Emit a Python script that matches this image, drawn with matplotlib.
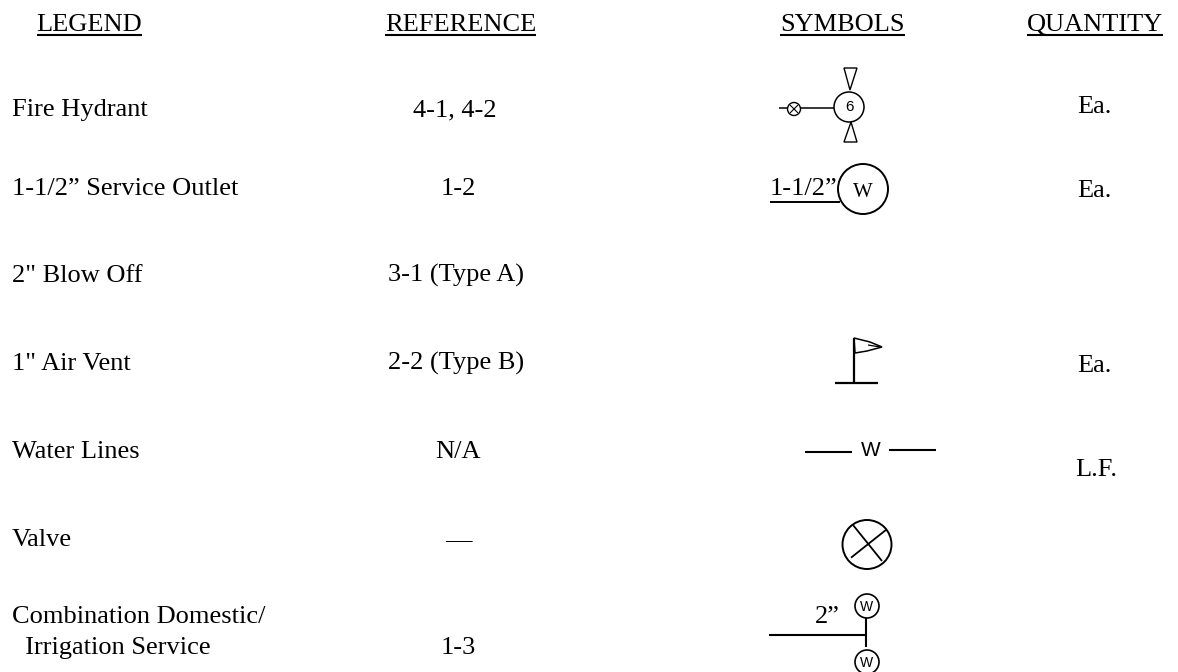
import matplotlib
matplotlib.use("Agg")
import matplotlib.pyplot as plt
from matplotlib.patches import Circle, Polygon

headers = ["LEGEND", "REFERENCE", "SYMBOLS", "QUANTITY"]
legend_items = ["Fire Hydrant", "1-1/2\u201d Service Outlet", "2\" Blow Off", "1\" Air Vent",
                "Water Lines", "Valve", "Combination Domestic/", "  Irrigation Service"]
references = ["4-1, 4-2", "1-2", "3-1 (Type A)", "2-2 (Type B)", "N/A", "\u2014", "", "1-3"]
quantities = ["Ea.", "Ea.", "", "Ea.", "L.F.", "", "", ""]

header_x = [89.5, 460.5, 842.5, 1095]
legend_base = [116, 195, 282, 370, 458, 546, 623, 654]
ref_x = [455, 458, 456, 456, 458, 458, 458, 458]
qty_x = [1094, 1094, 1094, 1094, 1096, 1094, 1094, 1094]
qty_base = [113, 197, 282, 372, 476, 546, 623, 654]

plt.rcParams["font.family"] = ["Liberation Serif", "DejaVu Sans"]
FS = 19
SANS = "Liberation Sans"
fig = plt.figure(figsize=(11.78, 6.72), dpi=100, facecolor="white")
ax = fig.add_axes([0, 0, 1, 1])
ax.set_xlim(0, 1178)
ax.set_ylim(672, 0)
ax.axis("off")

def T(x, y, s, ha="center", va="baseline", size=FS, **kw):
    return ax.text(x, y, s, ha=ha, va=va, fontsize=size, color="black", **kw)

def L(xs, ys, lw=1.4, z=2):
    ax.plot(xs, ys, color="black", lw=lw, solid_capstyle="butt", zorder=z)

def C(x, y, r, lw=1.4):
    ax.add_patch(Circle((x, y), r, fill=False, ec="black", lw=lw))

# headers, underlined to their measured width
fig.canvas.draw()
rend = fig.canvas.get_renderer()
inv = ax.transData.inverted()
for hx, h in zip(header_x, headers):
    t = T(hx, 31, h)
    bb = t.get_window_extent(rend)
    x0 = inv.transform((bb.x0, 0))[0]
    x1 = inv.transform((bb.x1, 0))[0]
    L([x0, x1], [34.5, 34.5], lw=1.5)

# rows
for item, y, rx, ref, qx, qy, q in zip(legend_items, legend_base, ref_x, references, qty_x, qty_base, quantities):
    T(12, y, item, ha="left")
    if ref:
        T(rx, y, ref)
    if q:
        T(qx, qy, q)

# Fire hydrant symbol
C(849, 107, 15, lw=1.1)
T(849, 107, "6", family=SANS, size=11, va="center")
L([779, 834], [108, 108], lw=1.1)
ax.add_patch(Circle((794, 109), 6.5, fc="white", ec="black", lw=1.0, zorder=3))
L([790, 798], [105, 113], lw=0.8, z=4)
L([790, 798], [113, 105], lw=0.8, z=4)
ax.add_patch(Polygon([(844, 68), (857, 68), (850, 90)], fill=False, ec="black", lw=1.0))
ax.add_patch(Polygon([(844, 142), (857, 142), (851, 122)], fill=False, ec="black", lw=1.0))

# Service outlet symbol
C(863, 189, 25, lw=1.4)
T(863, 197, "W", size=15)
T(770, 195, "1-1/2\u201d", ha="left")
L([770, 840], [201.7, 201.7])

# Air vent symbol
L([854, 854], [338, 383], lw=1.6)
L([835, 878], [383, 383], lw=1.6)
ax.add_patch(Polygon([(854, 338), (870, 342), (882, 347), (867, 351), (855, 353)],
                     fill=False, ec="black", lw=1.1))
L([868, 880], [345, 347], lw=0.9)

# Water line symbol
L([805, 852], [452, 452], lw=1.5)
L([889, 936], [450, 450], lw=1.5)
T(871, 450, "W", family=SANS, size=15, va="center")

# Valve symbol
C(867, 544.5, 24.5, lw=1.4)
L([853, 882], [525, 561], lw=1.3)
L([886.5, 851], [529.5, 557.7], lw=1.3)

# Combination service symbol
T(827, 623, "2\u201d")
L([769, 866], [635, 635], lw=1.5)
L([866, 866], [618, 647], lw=1.5)
C(867, 606, 12, lw=1.2)
T(867, 607, "W", family=SANS, size=10, va="center")
C(867, 662, 12, lw=1.2)
T(867, 663, "W", family=SANS, size=10, va="center")

fig.savefig("out.png", dpi=100)
